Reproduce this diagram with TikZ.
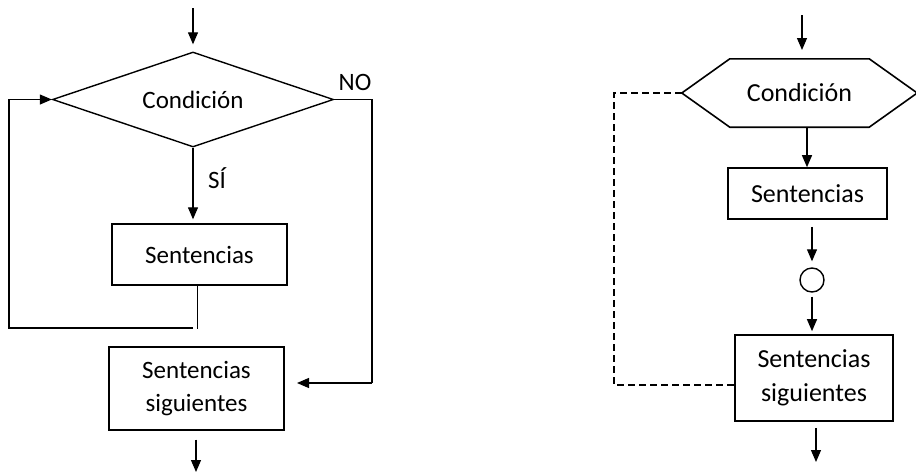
\documentclass[tikz,border=0pt]{standalone}
\usepackage{fontspec}
\setmainfont{Carlito}
\usetikzlibrary{shapes.geometric,arrows.meta,calc}
\begin{document}
\begin{tikzpicture}[x=1pt,y=-1pt,
  every node/.style={font=\fontsize{25}{33}\selectfont},
  rfont/.style={font=\fontsize{26}{34}\selectfont},
  box/.style={draw,line width=1.4pt,inner sep=0pt,align=center},
  conn/.style={line width=1.2pt},
  arr/.style={conn,-{Triangle[length=12pt,width=10pt]}},
  dashline/.style={line width=1.6pt,dash pattern=on 7pt off 4pt}]
\useasboundingbox (0,0) rectangle (916,472);
% ---------- left diagram ----------
\node[box,diamond,minimum width=281pt,minimum height=95pt,aspect=2.96] (dia) at (193,99.5) {Condición};
\node[box,minimum width=175pt,minimum height=61pt] (sent) at (199.5,254.5) {Sentencias};
\node[box,minimum width=175pt,minimum height=83pt] (sig) at (196.5,388.5) {Sentencias\\siguientes};
\node (no) at (355,82) {NO};
\node (si) at (217,178) {SÍ};
\coordinate (inL) at (193,8);
\coordinate (outL) at (196,472);
\coordinate (noA) at (372,99.5);
\coordinate (noB) at (372,383);
\coordinate (noEnd) at (297,383);
\coordinate (loopA) at (197.5,329);
\coordinate (loopB) at (193,328);
\coordinate (loopC) at (9,328);
\draw[arr,shorten >=7pt] (inL) -- (dia.north);
\draw[arr,shorten >=4pt] (dia.south) -- (dia.south |- sent.north);
\draw[conn] (dia.east) -- (noA) -- (noB);
\draw[arr] (noB) -- (noEnd);
\draw[conn] (sent.south -| loopA) -- (loopA);
\draw[arr] (loopB) -- (loopC) |- (dia.west);
\draw[arr,shorten <=9pt] (sig.south -| outL) -- (outL);
% ---------- right diagram ----------
\node[rfont,inner sep=0pt,minimum width=235pt,minimum height=68pt] (hex) at (799.5,93) {Condición};
\draw[line width=1.6pt] (hex.west) -- ($(hex.north west)+(48,0)$) -- ($(hex.north east)+(-48,0)$)
  -- (hex.east) -- ($(hex.south east)+(-48,0)$) -- ($(hex.south west)+(48,0)$) -- cycle;
\node[box,rfont,line width=1.6pt,minimum width=159pt,minimum height=51pt] (sent2) at (807.5,193.5) {Sentencias};
\node[draw,circle,line width=1.4pt,minimum size=24pt,inner sep=0pt] (circ) at (812,280) {};
\node[box,rfont,line width=1.6pt,minimum width=158pt,minimum height=86pt] (sig2) at (814,378) {Sentencias\\siguientes};
\coordinate (inR) at (802,15);
\coordinate (hexIn) at (802,59);
\coordinate (hexOut) at (807,127);
\coordinate (outR) at (816,462);
\coordinate (dA) at (614,93);
\coordinate (dB) at (614,385);
\draw[arr,shorten >=9pt] (inR) -- (hexIn);
\draw[arr] (hexOut) -- (hexOut |- sent2.north);
\draw[arr,shorten <=7pt,shorten >=6pt] (circ.north |- sent2.south) -- (circ.north);
\draw[arr,shorten <=4pt,shorten >=3pt] (circ.south) -- (circ.south |- sig2.north);
\draw[arr,shorten <=6pt] (sig2.south -| outR) -- (outR);
\draw[dashline] (hex.west) -- (dA) -- (dB) -- (sig2.west |- dB);
\end{tikzpicture}
\end{document}
